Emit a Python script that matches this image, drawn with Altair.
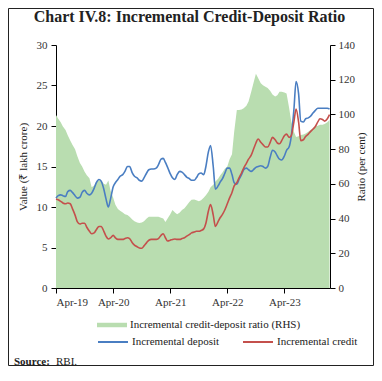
import altair as alt
import pandas as pd

# Fortnightly observations, Apr-2019 to Jan-2024
deposit = [11.1, 11.4, 11.5, 11.4, 11.3, 11.9, 12.05, 11.8, 11.4, 11.1,
           11.2, 11.8, 12.05, 11.7, 11.5, 11.7, 12.3, 13.0, 13.4, 13.2,
           12.2, 11.0, 10.0, 11.0, 12.5, 13.0, 13.4, 13.8, 14.0, 14.4,
           15.0, 15.0, 14.2, 13.8, 13.6, 13.3, 13.2, 13.6, 14.2, 14.6,
           14.7, 14.7, 14.8, 15.2, 15.9, 16.0, 15.5, 14.9, 14.1, 13.6,
           13.4, 14.0, 14.4, 14.3, 14.0, 13.7, 13.5, 13.3, 13.3, 13.6,
           14.1, 14.2, 14.0, 15.0, 16.8, 17.6, 15.0, 12.2, 12.6, 13.1,
           13.5, 14.1, 14.8, 14.8, 14.0, 13.0, 12.8, 13.4, 14.0, 14.6,
           14.8, 14.6, 14.4, 14.6, 14.9, 15.0, 15.1, 15.0, 14.8, 15.0,
           16.2, 17.0, 16.8, 16.3, 15.9, 15.8, 16.3, 17.0, 17.4, 18.7,
           22.0, 25.5, 24.0, 20.6, 20.5, 20.9, 21.0, 21.2, 21.6, 21.9,
           22.2, 22.2, 22.2, 22.2, 22.2, 22.1]

credit = [11.0, 10.9, 10.7, 10.5, 10.4, 10.5, 10.4, 9.8, 9.0, 8.2,
          7.9, 8.0, 8.0, 7.5, 7.0, 6.7, 6.8, 7.2, 7.6, 7.6,
          7.0, 6.4, 6.05, 6.2, 6.5, 6.2, 6.0, 6.0, 6.0, 6.1,
          6.2, 6.1, 5.6, 5.3, 5.1, 4.95, 4.9, 5.2, 5.6, 5.9,
          6.0, 6.0, 6.0, 6.1, 6.5, 6.7, 6.2, 5.8, 5.9, 6.0,
          6.05, 6.0, 6.0, 6.1, 6.2, 6.4, 6.6, 6.8, 6.9, 7.0,
          7.0, 7.1, 7.3, 8.0, 9.5, 10.3, 9.0, 7.6, 8.2, 8.7,
          9.1, 9.6, 10.4, 11.1, 11.8, 12.6, 13.0, 13.6, 14.2, 14.8,
          15.4, 15.9, 16.4, 17.1, 17.9, 18.4, 18.0, 17.7, 17.4, 17.4,
          18.0, 18.6, 18.3, 17.9, 17.8, 18.2, 18.8, 19.0, 18.6, 18.8,
          20.5, 22.1, 20.5, 18.2, 18.3, 18.7, 19.0, 19.3, 19.6, 19.9,
          20.5, 20.9, 20.8, 20.6, 20.9, 21.4]

ratio = [99.7, 97.5, 95.5, 93, 91, 88, 85, 82.5, 80, 76,
         72, 70, 67, 65, 63.3, 58, 59, 61, 62, 62,
         60, 59.5, 62, 56, 52, 48, 45.5, 44.5, 43.5, 42.5,
         42, 41, 39.5, 38.5, 37.7, 37.5, 37.8, 38.5, 40, 41,
         41, 41, 41, 41, 40.5, 40, 38, 40, 42.5, 45,
         43.5, 42.5, 43.5, 45, 46, 47.5, 49.5, 50.8, 51, 50.5,
         50, 50.5, 52, 53.5, 55.5, 58, 59.5, 61.3, 63, 65,
         66.5, 68.5, 70, 74, 77, 90, 102.6, 102.6, 102.8, 103.6,
         105, 107.4, 113, 118, 123.5, 121, 118, 116.8, 116, 115.2,
         113.5, 111.5, 110.3, 111, 113, 113, 112.7, 112, 104, 96,
         90, 87, 87.5, 88.1, 88.5, 89, 90, 91, 92, 93,
         93.5, 94, 94, 94.5, 95.5, 96.8]

dates = pd.date_range("2019-04-01", periods=len(ratio), freq="SMS").strftime("%Y-%m-%dT00:00:00").tolist()

TITLE = "Chart IV.8: Incremental Credit-Deposit Ratio"
AREA_NAME = "Incremental credit-deposit ratio (RHS)"
LINE_NAMES = ["Incremental deposit", "Incremental credit"]
GREEN, BLUE, RED = "#b9ddb0", "#4a7ec2", "#c4504c"
FONT = "Liberation Serif"
W, H = 274, 243
PAD = {"left": 48, "top": 37, "right": 44, "bottom": 78}

df = pd.DataFrame({"date": dates, "deposit": deposit, "credit": credit, "ratio": ratio})
df["series"] = AREA_NAME
long = pd.concat([
    pd.DataFrame({"date": dates, "value": deposit, "series": LINE_NAMES[0]}),
    pd.DataFrame({"date": dates, "value": credit, "series": LINE_NAMES[1]}),
])

tick_dates = [alt.DateTime(year=y, month=4, date=1) for y in range(2019, 2024)]
xdom = [alt.DateTime(year=2019, month=4, date=1), alt.DateTime(year=2024, month=1, date=18)]

axis_common = dict(domainColor="#000000", tickColor="#000000", tickSize=5,
                   labelFont=FONT, labelFontSize=11, labelColor="#333333",
                   titleFont=FONT, titleFontSize=11, titleFontWeight="normal",
                   titleColor="#222222", grid=False)

x = alt.X("date:T", scale=alt.Scale(domain=xdom),
          axis=alt.Axis(values=tick_dates, format="%b-%y", title=None,
                        labelPadding=3, **axis_common))

area = alt.Chart(df).mark_area(interpolate="linear").encode(
    x=x,
    y=alt.Y("ratio:Q", scale=alt.Scale(domain=[0, 140], nice=False),
            axis=alt.Axis(orient="right", values=list(range(0, 141, 20)),
                          title="Ratio (per cent)", titleAngle=270, titlePadding=12,
                          labelPadding=3, **axis_common)),
    fill=alt.Fill("series:N", scale=alt.Scale(domain=[AREA_NAME], range=[GREEN]),
                  legend=alt.Legend(orient="none", legendX=41, legendY=265, title=None,
                                    symbolType="M-1,-0.15H1V0.15H-1Z", symbolSize=900,
                                    symbolStrokeWidth=0, labelFont=FONT, labelFontSize=11,
                                    labelColor="#222222", labelOffset=3, labelLimit=300,
                                    padding=0)),
)

lines = alt.Chart(long).mark_line(strokeWidth=1.6, interpolate="monotone").encode(
    x=x,
    y=alt.Y("value:Q", scale=alt.Scale(domain=[0, 30], nice=False),
            axis=alt.Axis(orient="left", values=list(range(0, 31, 5)),
                          title="Value (₹ lakh crore)", titlePadding=8,
                          labelPadding=4, **axis_common)),
    stroke=alt.Stroke("series:N", scale=alt.Scale(domain=LINE_NAMES, range=[BLUE, RED]),
                      legend=alt.Legend(orient="none", legendX=41, legendY=281, title=None,
                                        direction="horizontal", columns=2, columnPadding=19,
                                        symbolType="stroke", symbolSize=900, symbolStrokeWidth=2,
                                        labelFont=FONT, labelFontSize=11, labelColor="#222222",
                                        labelOffset=3, labelLimit=300, padding=0)),
)

note = pd.DataFrame({"a": ["Source:"], "b": ["RBI."], "t": [TITLE]})
head = alt.Chart(note).mark_text(font=FONT, fontSize=16, fontWeight="bold", align="center",
                                 baseline="alphabetic", color="#222222").encode(
    x=alt.value(133.5), y=alt.value(-23), text="t:N")
src1 = alt.Chart(note).mark_text(font=FONT, fontSize=11, fontWeight="bold", align="left",
                                 baseline="middle", color="#222222").encode(
    x=alt.value(-42), y=alt.value(317), text="a:N")
src2 = alt.Chart(note).mark_text(font=FONT, fontSize=11, align="left",
                                 baseline="middle", color="#222222").encode(
    x=alt.value(0), y=alt.value(317), text="b:N")

border = alt.Chart(note).mark_rect(filled=False, stroke="#222222", strokeWidth=1).encode(
    x=alt.value(-PAD["left"] + 0.5), x2=alt.value(W + PAD["right"] - 0.5),
    y=alt.value(-PAD["top"] + 0.5), y2=alt.value(H + PAD["bottom"] - 0.5))

chart = alt.layer(area, lines, head, src1, src2, border).resolve_scale(y="independent").properties(
    width=W, height=H,
    autosize=alt.AutoSizeParams(type="none"),
    padding=PAD,
).configure_view(strokeWidth=0)

chart.save("out.html", embed_options={"renderer": "svg", "actions": False})
